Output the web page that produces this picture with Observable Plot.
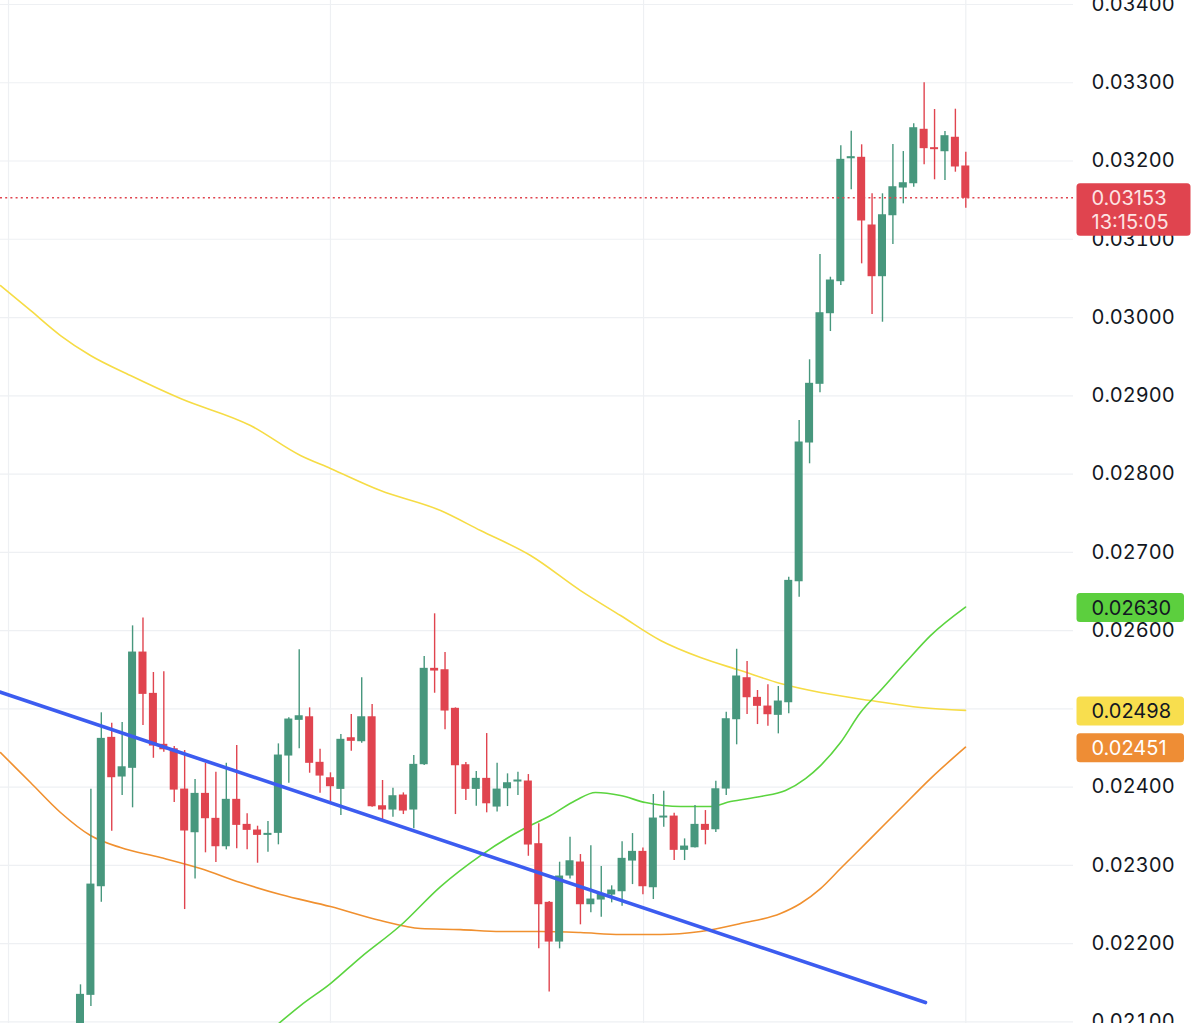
<!DOCTYPE html>
<html>
<head>
<meta charset="utf-8">
<script src="https://cdn.jsdelivr.net/npm/d3@7"></script>
<script src="https://cdn.jsdelivr.net/npm/@observablehq/plot@0.6"></script>
<style>
  html, body { margin: 0; padding: 0; background: #ffffff; overflow: hidden; }
  #chart svg { display: block; }
</style>
</head>
<body>
<div id="chart"></div>
<script>
// ---- Candle data (index 0..85) ----
const openP = [0.020825,0.021345,0.022733,0.024629,0.024135,0.024246,0.025719,0.025191,0.024540,0.024483,0.023968,0.023423,0.023913,0.023594,0.023244,0.023837,0.023517,0.023445,0.023389,0.023415,0.024403,0.024859,0.024892,0.024310,0.024113,0.023977,0.024624,0.024586,0.024892,0.023755,0.023713,0.023892,0.023713,0.024292,0.025511,0.025493,0.025000,0.024279,0.023977,0.024105,0.023751,0.023985,0.024071,0.024071,0.023270,0.022521,0.022026,0.022870,0.023036,0.022503,0.022563,0.022627,0.022669,0.023061,0.023172,0.022720,0.023611,0.023623,0.023198,0.023231,0.023517,0.023461,0.023981,0.024867,0.025391,0.025140,0.025029,0.024923,0.025084,0.026630,0.028403,0.029153,0.030055,0.030464,0.032035,0.032041,0.031176,0.030528,0.031307,0.031661,0.031716,0.032399,0.032164,0.032125,0.032297,0.031930];
const highP = [0.021473,0.023972,0.024949,0.024816,0.024825,0.026060,0.026162,0.025464,0.025473,0.024518,0.024467,0.024096,0.024304,0.024190,0.024304,0.024531,0.023658,0.023500,0.023560,0.024552,0.024885,0.025754,0.025012,0.024483,0.024182,0.024671,0.024927,0.025396,0.025055,0.024084,0.023985,0.023926,0.024403,0.025668,0.026214,0.025719,0.025012,0.024314,0.024198,0.024684,0.024304,0.024169,0.024190,0.024160,0.023530,0.022537,0.023040,0.023359,0.023138,0.023249,0.022985,0.022738,0.023300,0.023406,0.023223,0.023905,0.023947,0.023666,0.023338,0.023764,0.023700,0.024075,0.024956,0.025761,0.025604,0.025234,0.025306,0.025285,0.026681,0.028684,0.029460,0.030805,0.030515,0.032194,0.032381,0.032207,0.031581,0.031581,0.032211,0.032121,0.032476,0.032999,0.032658,0.032377,0.032662,0.032112];
const lowP = [0.020761,0.021195,0.022528,0.023436,0.023892,0.023735,0.024786,0.024368,0.024445,0.023802,0.022435,0.022827,0.023160,0.023036,0.023198,0.023211,0.023198,0.023027,0.023167,0.023262,0.024049,0.024489,0.024177,0.023921,0.023777,0.023636,0.024458,0.024560,0.023742,0.023572,0.023615,0.023649,0.023466,0.024275,0.025199,0.024731,0.023649,0.023828,0.023755,0.023671,0.023683,0.023751,0.023892,0.023116,0.021933,0.021383,0.021933,0.022827,0.022240,0.022393,0.022337,0.022521,0.022477,0.022754,0.022623,0.022563,0.023487,0.023061,0.023061,0.023223,0.023262,0.023419,0.023892,0.024540,0.024927,0.024799,0.024777,0.024680,0.024936,0.026426,0.028131,0.029038,0.029821,0.030409,0.031632,0.030686,0.030038,0.029940,0.030933,0.031453,0.031665,0.031952,0.031760,0.031751,0.031857,0.031397];
const closeP = [0.021345,0.022754,0.024616,0.024126,0.024253,0.025719,0.025191,0.024531,0.024483,0.023968,0.023445,0.023913,0.023602,0.023244,0.023837,0.023517,0.023453,0.023389,0.023402,0.024403,0.024863,0.024905,0.024310,0.024147,0.024011,0.024604,0.024591,0.024892,0.023755,0.023713,0.023883,0.023700,0.024284,0.025511,0.025489,0.024978,0.024279,0.023977,0.024105,0.023793,0.023968,0.024049,0.024084,0.023266,0.022503,0.022026,0.022857,0.023052,0.022503,0.022563,0.022627,0.022678,0.023083,0.023172,0.022733,0.023598,0.023623,0.023198,0.023240,0.023517,0.023453,0.023972,0.024867,0.025413,0.025148,0.025038,0.024931,0.025093,0.026635,0.028403,0.029153,0.030055,0.030473,0.032015,0.032049,0.031240,0.030528,0.031307,0.031665,0.031716,0.032419,0.032164,0.032151,0.032317,0.031930,0.03153];

// ---- Moving averages: [candle index, price] ----
const maYellowIdx = [-7.68,-4.80,-1.92,0.96,4.80,9.60,16.32,21.12,24.0,28.80,34.57,38.41,43.21,48.01,51.85,55.69,59.53,63.37,67.21,71.05,75.85,80.65,84.97];
const maYellowVal = [0.030409,0.030090,0.029770,0.029515,0.029259,0.028965,0.028620,0.028237,0.028071,0.027789,0.027534,0.027278,0.026959,0.026511,0.026192,0.025873,0.025655,0.025489,0.025323,0.025208,0.025106,0.025016,0.02498];
const maGreenIdx = [18.24,21.12,24.0,26.88,30.72,34.57,38.41,42.25,45.13,47.53,49.45,51.85,54.25,57.61,60.49,62.41,65.29,67.69,69.61,71.05,72.97,74.89,76.81,79.21,81.61,84.97];
const maGreenVal = [0.020889,0.021208,0.021489,0.021822,0.022231,0.022729,0.023125,0.023445,0.023636,0.023828,0.023930,0.023892,0.023802,0.023751,0.023751,0.023815,0.023879,0.023956,0.024109,0.024275,0.024569,0.024952,0.025234,0.025591,0.025936,0.02630];
const maOrangeIdx = [-7.68,-4.80,-1.92,0.96,3.84,7.68,11.52,15.36,19.20,24.0,28.80,32.65,36.49,40.33,44.17,48.01,51.85,55.69,59.53,63.37,67.21,69.13,71.05,72.97,75.85,78.73,81.61,84.97];
const maOrangeVal = [0.024441,0.024058,0.023675,0.023381,0.023227,0.023100,0.022959,0.022780,0.022627,0.022473,0.022294,0.022192,0.022179,0.022154,0.022154,0.022141,0.022116,0.022116,0.022154,0.022256,0.022384,0.022512,0.022703,0.022959,0.023342,0.023726,0.024109,0.02451];

// ---- Trend line ----
const trendIdx = [-7.68, 81.13];
const trendVal = [0.025213, 0.021247];

// ---- Axis / grid ----
const yTicks = [0.021,0.022,0.023,0.024,0.025,0.026,0.027,0.028,0.029,0.030,0.031,0.032,0.033,0.034];
const xGrid = [-6.91, 24.0, 54.06, 85.0];
const lastPrice = 0.03153;
const countdown = "13:15:05";
const badgeVals = [0.02630, 0.02498, 0.02451];
const badgeFills = ["#5ccf3e", "#f8de4e", "#ee8d35"];
const badgeText = ["#131722", "#131722", "#ffffff"];

const UP = "#47977d", DOWN = "#e0444f";

const candles = openP.map((o, i) => ({i, o, h: highP[i], l: lowP[i], c: closeP[i], up: closeP[i] >= o}));
const toPts = (xs, ys) => xs.map((x, k) => ({x, y: ys[k]}));
const yellow = toPts(maYellowIdx, maYellowVal);
const green = toPts(maGreenIdx, maGreenVal);
const orange = toPts(maOrangeIdx, maOrangeVal);
const trend = toPts(trendIdx, trendVal);

const FONT = "Inter, 'Noto Sans', sans-serif";

const plot = Plot.plot({
  width: 1200,
  height: 1023,
  marginLeft: 0,
  marginRight: 127,
  marginTop: 0,
  marginBottom: 0,
  style: {background: "#ffffff", fontFamily: FONT, overflow: "visible"},
  x: {type: "linear", domain: [-7.68, 95.34], axis: null},
  y: {domain: [0.020979, 0.034051], axis: null},
  marks: [
    Plot.ruleY(yTicks, {stroke: "#eef0f3", strokeWidth: 1.2}),
    Plot.ruleX(xGrid, {stroke: "#eef0f3", strokeWidth: 1.2}),
    Plot.axisY(yTicks, {anchor: "right", tickSize: 0, tickPadding: 18, tickFormat: d => d.toFixed(5), fontSize: 20, fill: "#131722", textAnchor: "start"}),
    Plot.line(yellow, {x: "x", y: "y", stroke: "#f6dc45", strokeWidth: 1.6, curve: "monotone-x", clip: true}),
    Plot.line(orange, {x: "x", y: "y", stroke: "#f0902f", strokeWidth: 1.6, curve: "monotone-x", clip: true}),
    Plot.line(green, {x: "x", y: "y", stroke: "#5bd43f", strokeWidth: 1.6, curve: "monotone-x", clip: true}),
    Plot.ruleX(candles, {x: "i", y1: "l", y2: "h", stroke: d => d.up ? UP : DOWN, strokeWidth: 1.4, clip: true}),
    Plot.rect(candles, {x1: d => d.i - 0.385, x2: d => d.i + 0.385, y1: "o", y2: "c", fill: d => d.up ? UP : DOWN, insetTop: -0.5, insetBottom: -0.5, clip: true}),
    Plot.line(trend, {x: "x", y: "y", stroke: "#3c5cf0", strokeWidth: 3.6, clip: true}),
    Plot.ruleY([lastPrice], {stroke: DOWN, strokeWidth: 1.5, strokeDasharray: "2,3.2"})
  ]
});

document.getElementById("chart").appendChild(plot);

// ---- Price badges on the right scale ----
const ys = plot.scale("y");
const svg = d3.select(plot);
const g = svg.append("g").attr("font-family", FONT).attr("font-size", 20).attr("text-anchor", "start");

badgeVals.forEach((v, k) => {
  const cy = ys.apply(v) + 1;
  g.append("rect").attr("x", 1076.5).attr("y", cy - 14.5).attr("width", 107.5).attr("height", 29).attr("rx", 3.5).attr("fill", badgeFills[k]);
  g.append("text").attr("x", 1091.5).attr("y", cy).attr("dy", "0.36em").attr("text-anchor", "start").attr("fill", badgeText[k]).text(v.toFixed(5));
});

const py = ys.apply(lastPrice);
g.append("rect").attr("x", 1076.5).attr("y", py - 14).attr("width", 114).attr("height", 52.5).attr("rx", 3.5).attr("fill", DOWN);
g.append("text").attr("x", 1091.5).attr("y", py + 0.5).attr("dy", "0.36em").attr("text-anchor", "start").attr("fill", "#fde3e3").text(lastPrice.toFixed(5));
g.append("text").attr("x", 1091.5).attr("y", py + 24.5).attr("dy", "0.36em").attr("text-anchor", "start").attr("fill", "#fde3e3").text(countdown);
</script>
</body>
</html>
